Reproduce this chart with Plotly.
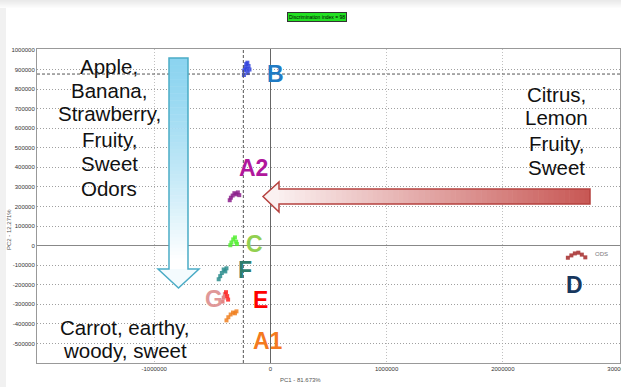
import plotly.graph_objects as go

# ---------------- data ----------------
group_names = ["B", "A2", "C", "F", "G", "E", "A1", "D"]
group_colors = ["#3344DD", "#8B1E8B", "#55EE33", "#2A8C8C", "#E07070", "#FF2020", "#F08020", "#A52A2A"]

x_B = [-228000, -226000, -218000, -208000, -198000, -188000, -180000, -195000, -205000]
y_B = [872000, 895000, 912000, 928000, 935000, 918000, 900000, 882000, 902000]
x_A2 = [-350000, -340000, -325000, -310000, -295000, -280000, -268000]
y_A2 = [232000, 245000, 256000, 268000, 262000, 272000, 258000]
x_C = [-345000, -335000, -320000, -305000, -295000, -288000]
y_C = [2000, 16000, 32000, 42000, 20000, 8000]
x_F = [-445000, -432000, -418000, -402000, -388000, -378000]
y_F = [-172000, -156000, -140000, -122000, -132000, -116000]
x_G = [-412000, -402000, -392000]
y_G = [-286000, -266000, -248000]
x_E = [-382000, -372000, -364000]
y_E = [-238000, -258000, -276000]
x_A1 = [-378000, -362000, -342000, -322000, -305000, -292000]
y_A1 = [-382000, -366000, -352000, -342000, -346000, -336000]
x_D = [2560000, 2590000, 2620000, 2650000, 2680000, 2710000]
y_D = [-62000, -50000, -40000, -36000, -46000, -60000]

group_x = [x_B, x_A2, x_C, x_F, x_G, x_E, x_A1, x_D]
group_y = [y_B, y_A2, y_C, y_F, y_G, y_E, y_A1, y_D]

# big letter labels (data coordinates) and colours
label_text = ["B", "A2", "C", "F", "G", "E", "A1", "D"]
label_x = [43000, -146000, -138000, -215000, -483000, -86000, -17000, 2620000]
label_y = [877000, 395000, 10000, -123000, -272000, -277000, -487000, -200000]
label_colors = ["#1F7BC4", "#B0179C", "#92D050", "#2E7D6B", "#E09898", "#FF0000", "#F47A1F", "#17375E"]

x_tickvals = [-1000000, 0, 1000000, 2000000, 3000000]
y_tickvals = list(range(-500000, 1000001, 100000))

x_range = [-2008600, 3008600]
y_range = [-600000, 1005000]

cross_x = -233000
cross_y = 877000

# --------------- layout geometry ---------------
W, H = 621, 387
L, R, T, B = 37, 620, 49, 363


def px(x):
    return (x - L) / (R - L)


def py(y):
    return (B - y) / (B - T)


fig = go.Figure()

for name, xs, ys, c in zip(group_names, group_x, group_y, group_colors):
    fig.add_trace(go.Scatter(
        x=xs, y=ys, mode="markers", name=name,
        marker=dict(size=4, color=c, symbol="square", opacity=0.85),
        showlegend=False, hoverinfo="skip"))

shapes = []
# grey frame strips (page background)
shapes.append(dict(type="rect", xref="paper", yref="paper", x0=px(0), x1=px(6), y0=py(387), y1=py(0),
                   fillcolor="#F1F1F1", line=dict(width=0), layer="below"))
for i in range(8):
    g = int(0xEA + (0xFF - 0xEA) * i / 8)
    shapes.append(dict(type="rect", xref="paper", yref="paper", x0=px(0), x1=px(621), y0=py(i + 1), y1=py(i),
                       fillcolor="#%02x%02x%02x" % (g, g, g), line=dict(width=0), layer="below"))

# crosshair dashed lines
shapes.append(dict(type="line", xref="x", yref="paper", x0=cross_x, x1=cross_x, y0=0, y1=1,
                   line=dict(color="#555555", width=1, dash="3px,2px")))
shapes.append(dict(type="line", xref="paper", yref="y", x0=0, x1=1, y0=cross_y, y1=cross_y,
                   line=dict(color="#555555", width=1, dash="3px,2px")))


def lerp(c1, c2, t):
    return "#%02x%02x%02x" % tuple(int(round(a + (b - a) * t)) for a, b in zip(c1, c2))


# blue downward arrow (gradient shaft)
bx0, bx1, by0, by1 = 169, 188, 58, 269
n = 60
for i in range(n):
    t = i / (n - 1)
    col = lerp((0x8C, 0xD4, 0xF0), (0xFF, 0xFF, 0xFF), min(1, t ** 1.3 * 1.05))
    ya = by0 + (by1 - by0) * i / n
    yb = by0 + (by1 - by0) * (i + 1) / n + 0.5
    shapes.append(dict(type="rect", xref="paper", yref="paper", x0=px(bx0), x1=px(bx1),
                       y0=py(yb), y1=py(ya), fillcolor=col, line=dict(width=0)))
head_b = "M %f,%f L %f,%f L %f,%f Z" % (px(158), py(269), px(199), py(269), px(178.5), py(288))
shapes.append(dict(type="path", xref="paper", yref="paper", path=head_b, fillcolor="#F4FBFE", line=dict(width=0)))
outline_b = ("M %f,%f L %f,%f L %f,%f L %f,%f L %f,%f L %f,%f L %f,%f Z" %
             (px(bx0), py(by0), px(bx1), py(by0), px(bx1), py(by1), px(199), py(by1),
              px(178.5), py(288), px(158), py(by1), px(bx0), py(by1)))
shapes.append(dict(type="path", xref="paper", yref="paper", path=outline_b,
                   line=dict(color="#4BACC6", width=1.5)))

# red leftward arrow (gradient shaft)
rx0, rx1, ry0, ry1 = 279, 590, 189, 204
for i in range(n):
    t = i / (n - 1)
    col = lerp((0xFA, 0xEE, 0xEE), (0xC8, 0x58, 0x55), t)
    xa = rx0 + (rx1 - rx0) * i / n
    xb = rx0 + (rx1 - rx0) * (i + 1) / n + 0.6
    shapes.append(dict(type="rect", xref="paper", yref="paper", x0=px(xa), x1=px(min(xb, rx1)),
                       y0=py(ry1), y1=py(ry0), fillcolor=col, line=dict(width=0)))
head_r = "M %f,%f L %f,%f L %f,%f Z" % (px(rx0), py(182), px(rx0), py(212), px(263), py(196.5))
shapes.append(dict(type="path", xref="paper", yref="paper", path=head_r, fillcolor="#FBF1F1", line=dict(width=0)))
outline_r = ("M %f,%f L %f,%f L %f,%f L %f,%f L %f,%f L %f,%f L %f,%f Z" %
             (px(rx1), py(ry0), px(rx0), py(ry0), px(rx0), py(182), px(263), py(196.5),
              px(rx0), py(212), px(rx0), py(ry1), px(rx1), py(ry1)))
shapes.append(dict(type="path", xref="paper", yref="paper", path=outline_r,
                   line=dict(color="#B5423F", width=1.5)))

annotations = []
for t_, x_, y_, c_ in zip(label_text, label_x, label_y, label_colors):
    annotations.append(dict(x=x_, y=y_, xref="x", yref="y", text="<b>%s</b>" % t_, showarrow=False,
                            font=dict(family="Liberation Sans, Arial", size=23, color=c_),
                            xanchor="center", yanchor="middle"))

annotations.append(dict(x=2775000, y=-45000, xref="x", yref="y", text="ODS", showarrow=False,
                        font=dict(family="Liberation Sans Narrow, Liberation Sans", size=6, color="#777777"),
                        xanchor="left", yanchor="middle"))


def text_lines(lines, cx, ys, size=20.5):
    for s, yy in zip(lines, ys):
        annotations.append(dict(x=px(cx), y=py(yy), xref="paper", yref="paper", text=s, showarrow=False,
                                font=dict(family="Liberation Sans, Arial", size=size, color="#111111"),
                                xanchor="center", yanchor="middle"))


text_lines(["Apple,", "Banana,", "Strawberry,", "Fruity,", "Sweet", "Odors"], 109,
           [66, 90, 114, 139, 163, 188])
text_lines(["Citrus,", "Lemon", "Fruity,", "Sweet"], 556, [94, 118, 143, 167])
text_lines(["Carrot, earthy,", "woody, sweet"], 125, [327, 350])

annotations.append(dict(x=px(316.5), y=py(17), xref="paper", yref="paper",
                        text="Discrimination index = 98", showarrow=False,
                        font=dict(family="Liberation Sans Narrow, Liberation Sans", size=5, color="#000000"),
                        bgcolor="#22E022", bordercolor="#333333", borderwidth=1, borderpad=1,
                        xanchor="center", yanchor="middle"))
annotations.append(dict(x=px(9), y=py(230), xref="paper", yref="paper", text="PC2 - 12.271%",
                        showarrow=False, textangle=-90,
                        font=dict(family="Liberation Sans Narrow, Liberation Sans", size=6, color="#555555"),
                        xanchor="center", yanchor="middle"))
annotations.append(dict(x=px(300), y=py(380), xref="paper", yref="paper", text="PC1 - 81.673%",
                        showarrow=False,
                        font=dict(family="Liberation Sans Narrow, Liberation Sans", size=6, color="#555555"),
                        xanchor="center", yanchor="middle"))

tickfont = dict(family="Liberation Sans Narrow, Liberation Sans", size=6, color="#333333")

fig.update_layout(
    width=W, height=H,
    margin=dict(l=L, r=W - R, t=T, b=H - B, pad=0, autoexpand=False),
    paper_bgcolor="white", plot_bgcolor="white",
    shapes=shapes, annotations=annotations,
    xaxis=dict(range=x_range, tickvals=x_tickvals, ticktext=[str(v) for v in x_tickvals],
               showgrid=True, gridcolor="#C0C0C0", griddash="1px,2px", gridwidth=1,
               zeroline=True, zerolinecolor="#666666", zerolinewidth=1,
               showline=True, mirror=True, linecolor="#999999", linewidth=1,
               ticks="", tickfont=tickfont, fixedrange=True, automargin=False,
               ticklabeloverflow="allow"),
    yaxis=dict(range=y_range, tickvals=y_tickvals, ticktext=[str(v) for v in y_tickvals],
               showgrid=True, gridcolor="#A0A0A0", griddash="1px,2px", gridwidth=1,
               zeroline=True, zerolinecolor="#888888", zerolinewidth=1,
               showline=True, mirror=True, linecolor="#999999", linewidth=1,
               ticks="", tickfont=tickfont, fixedrange=True, automargin=False),
    showlegend=False,
)

fig.write_html("out.html", config={"displayModeBar": False},
               post_script="document.body.style.margin='0';document.body.style.overflow='hidden';")
